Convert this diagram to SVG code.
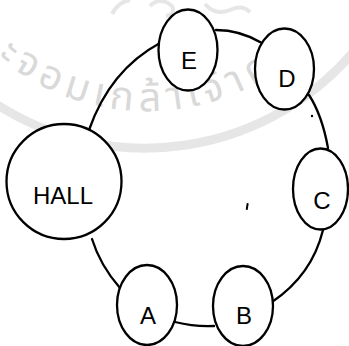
<svg xmlns="http://www.w3.org/2000/svg" width="349" height="346" viewBox="0 0 349 346">
  <style>
    .node { fill: #ffffff; stroke: #000000; stroke-width: 2.3; }
    .label { font-family: "Liberation Sans", Arial, sans-serif; font-size: 24px; fill: #000000; text-anchor: middle; }
    .link { fill: none; stroke: #000000; stroke-width: 2.3; stroke-linecap: round; }
    .seal { fill: none; stroke: #e6e6e6; }
    .seal-text { font-family: "Noto Sans Thai", "DejaVu Sans", sans-serif; font-size: 40px; fill: #d9d9d9; letter-spacing: 6px; }
  </style>
  <defs>
    <path id="sealArc" d="M -10 50 A 232 232 0 0 0 360 -29"/>
  </defs>
  <rect width="349" height="346" fill="#ffffff"/>

  <!-- faint seal in the background -->
  <g id="seal">
    <path class="seal" stroke-width="9" d="M -10 100 A 274 274 0 0 0 360 44"/>
    <path class="seal" stroke-width="4" d="M 112 14 Q 118 2 130 0 M 150 6 Q 160 -4 172 6 Q 176 14 166 16 M 205 4 Q 215 16 230 10 Q 242 4 250 12"/>
    <text class="seal-text"><textPath href="#sealArc" startOffset="10">ะจอมเกล้าเจ้าคุ</textPath></text>
  </g>

  <!-- ring connectors -->
  <g id="connectors">
    <path class="link" d="M 89 130 Q 110 70 160 43"/>
    <path class="link" d="M 216 30 Q 240 30 262 43"/>
    <path class="link" d="M 309 95 Q 322 115 328 148"/>
    <path class="link" d="M 323 230 Q 312 275 272 302"/>
    <path class="link" d="M 214 326 Q 195 327 175 322"/>
    <path class="link" d="M 120 288 Q 100 265 92 239"/>
  </g>

  <!-- stray pen marks -->
  <circle cx="312" cy="116" r="1.2" fill="#000000"/>
  <path d="M 247.6 204 L 246.8 209" stroke="#000000" stroke-width="2" stroke-linecap="round"/>

  <g id="hall">
    <circle class="node" cx="64" cy="181.5" r="57.5"/>
    <text class="label" x="63" y="203.5">HALL</text>
  </g>
  <g id="node-e">
    <ellipse class="node" cx="188" cy="50" rx="29.5" ry="40.5"/>
    <text class="label" x="189" y="68.5">E</text>
  </g>
  <g id="node-d">
    <ellipse class="node" cx="284.5" cy="69" rx="29.5" ry="40.5"/>
    <text class="label" x="287" y="86.5">D</text>
  </g>
  <g id="node-c">
    <ellipse class="node" cx="320.5" cy="189" rx="27.5" ry="40.5"/>
    <text class="label" x="322" y="208.5">C</text>
  </g>
  <g id="node-b">
    <ellipse class="node" cx="243" cy="306" rx="30" ry="40"/>
    <text class="label" x="244" y="323.5">B</text>
  </g>
  <g id="node-a">
    <ellipse class="node" cx="147" cy="305" rx="30" ry="40"/>
    <text class="label" x="148" y="323.5">A</text>
  </g>
</svg>
